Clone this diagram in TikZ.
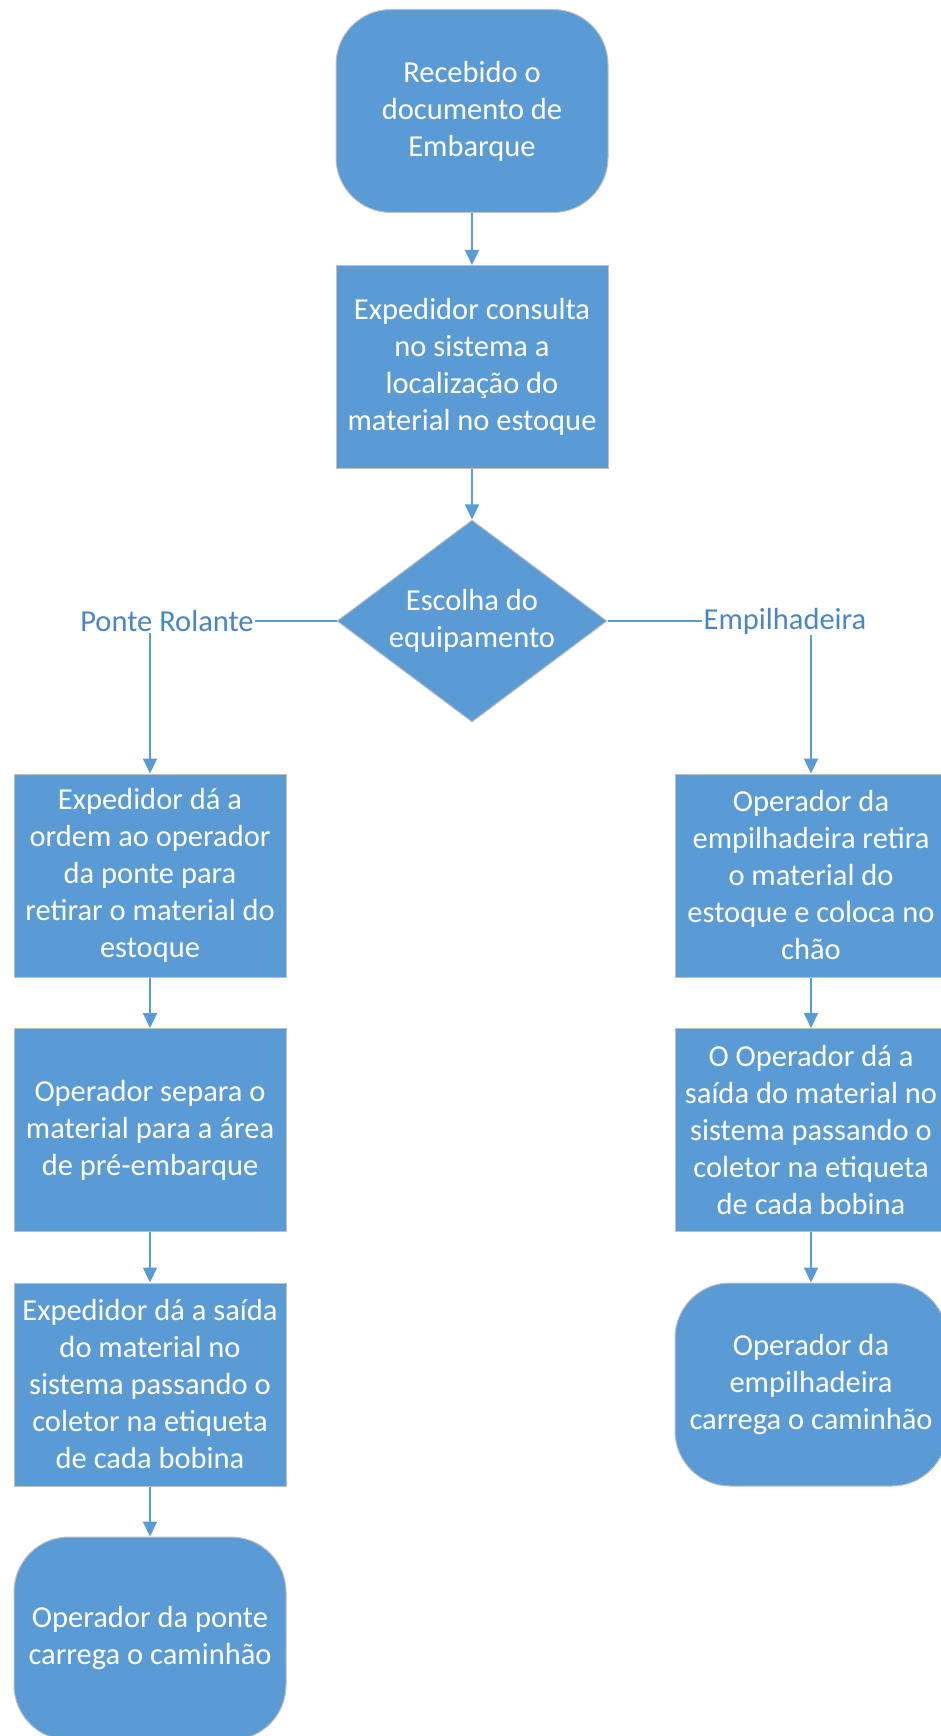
\documentclass[tikz,border=0pt]{standalone}
\usepackage{fontspec}
\setmainfont{Carlito}
\usetikzlibrary{positioning, arrows.meta, shapes.geometric}
\definecolor{boxblue}{HTML}{5B9BD5}
\definecolor{rimgrey}{HTML}{BFBFBF}
\definecolor{labelblue}{HTML}{4A85C6}

\tikzset{
  procbox/.style={rectangle, fill=boxblue, draw=rimgrey, line width=1pt,
    minimum width=272pt, minimum height=203pt, inner sep=0pt,
    text=white, align=center, font=\fontsize{30.5}{37}\selectfont},
  termbox/.style={procbox, rounded corners=55pt},
  choicebox/.style={procbox, diamond, aspect=1.34,
    minimum width=270pt, minimum height=202pt},
  branchlabel/.style={text=labelblue, inner sep=1pt,
    font=\fontsize{30.5}{37}\selectfont},
  link/.style={draw=boxblue, line width=2pt},
  flow/.style={link, -{Triangle[length=15pt, width=14pt]}},
}

\begin{document}
\begin{tikzpicture}[x=1pt, y=-1pt]
    \useasboundingbox (0,0) rectangle (940,1736);
    % Hauptstrang
    \node[termbox] (recebido) at (472,111) {Recebido o\\documento de\\Embarque};
    \node[procbox] (consulta) at (472,367)
      {Expedidor consulta\\no sistema a\\localização do\\material no estoque};
    \node[choicebox] (escolha) at (472,621) {Escolha do\\equipamento};
    \draw[flow] (recebido) -- (consulta);
    \draw[flow] (consulta) -- (escolha);
    % Verzweigung
    \node[branchlabel] (ponte) at (167,621) {Ponte Rolante};
    \node[branchlabel] (empilha) at (785,621) {Empilhadeira};
    \draw[link] (escolha.west) -- (ponte.east);
    \draw[link] (escolha.east) -- (empilha.west);
    % linker Zweig: Ponte Rolante
    \node[procbox] (ponte1) at (150,875.5)
      {Expedidor dá a\\ordem ao operador\\da ponte para\\retirar o material do\\estoque};
    \node[procbox] (ponte2) at (150,1130)
      {Operador separa o\\material para a área\\de pré-embarque};
    \node[procbox] (ponte3) at (150,1384.5)
      {Expedidor dá a saída\\do material no\\sistema passando o\\coletor na etiqueta\\de cada bobina};
    \node[termbox] (ponte4) at (150,1638.5)
      {Operador da ponte\\carrega o caminhão};
    \draw[flow] (ponte.south -| ponte1.north) -- (ponte1.north);
    \draw[flow] (ponte1) -- (ponte2);
    \draw[flow] (ponte2) -- (ponte3);
    \draw[flow] (ponte3) -- (ponte4);
    % rechter Zweig: Empilhadeira
    \node[procbox] (empilha1) at (811,875.5)
      {Operador da\\empilhadeira retira\\o material do\\estoque e coloca no\\chão};
    \node[procbox] (empilha2) at (811,1130)
      {O Operador dá a\\saída do material no\\sistema passando o\\coletor na etiqueta\\de cada bobina};
    \node[termbox] (empilha3) at (811,1384.5)
      {Operador da\\empilhadeira\\carrega o caminhão};
    \draw[flow] (empilha.south -| empilha1.north) -- (empilha1.north);
    \draw[flow] (empilha1) -- (empilha2);
    \draw[flow] (empilha2) -- (empilha3);
\end{tikzpicture}
\end{document}
